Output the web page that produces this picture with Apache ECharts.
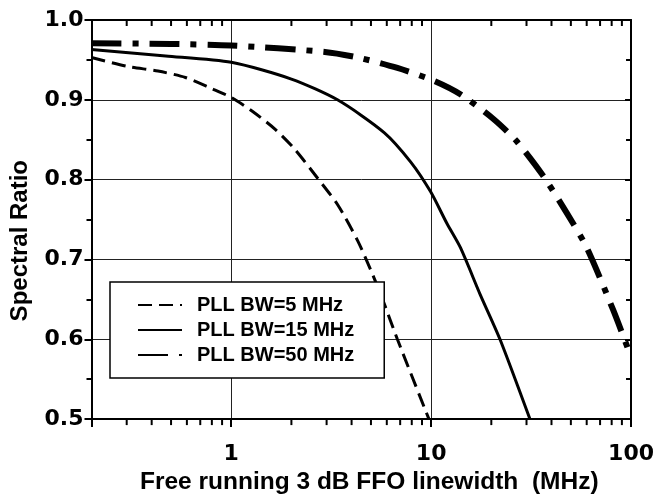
<!DOCTYPE html>
<html><head><meta charset="utf-8">
<script src="https://cdn.jsdelivr.net/npm/echarts@6/dist/echarts.min.js"></script>
<style>html,body{margin:0;padding:0;background:#fff}#c{width:657px;height:500px}</style>
</head><body><div id="c"></div>
<script>
const seriesNames = ['PLL BW=5 MHz', 'PLL BW=15 MHz', 'PLL BW=50 MHz'];

const bw5X = [0.2, 0.3, 0.43, 0.59, 0.8, 1.0, 1.27, 1.66, 2.08, 2.72, 3.42, 4.3, 5.0, 5.6, 6.78, 9.75];
const bw5Y = [0.953, 0.942, 0.936, 0.928, 0.914, 0.903, 0.886, 0.863, 0.838, 0.801, 0.768, 0.723, 0.686, 0.656, 0.600, 0.500];

const bw15X = [0.2, 0.47, 1.0, 2.0, 3.4, 5.82, 7.91, 9.93, 12.0, 14.0, 17.6, 22.1, 31.2];
const bw15Y = [0.963, 0.955, 0.947, 0.926, 0.900, 0.859, 0.822, 0.785, 0.745, 0.715, 0.656, 0.600, 0.500];

const bw50X = [0.2, 0.5, 1.0, 2.94, 4.3, 6.78, 10.3, 14.0, 20.5, 26.8, 36.3, 47.5, 60, 81.3, 100];
const bw50Y = [0.971, 0.970, 0.968, 0.960, 0.953, 0.940, 0.924, 0.907, 0.876, 0.848, 0.805, 0.759, 0.715, 0.637, 0.578];

const xMajorLabels = [1, 10, 100];
const xMinorTicks = [0.3, 0.4, 0.5, 0.6, 0.7, 0.8, 0.9, 2, 3, 4, 5, 6, 7, 8, 9, 20, 30, 40, 50, 60, 70, 80, 90];
const xMin = 0.2, xMax = 100;
const yMin = 0.5, yMax = 1.0, yStep = 0.1;

const xTitle = 'Free running 3 dB FFO linewidth  (MHz)';
const yTitle = 'Spectral Ratio';

function pairs(xs, ys) { return xs.map((x, i) => [x, ys[i]]); }

const labelFont = { fontFamily: 'DejaVu Sans', fontWeight: 'bold', fontSize: 22, color: '#000' };
const titleFont = { fontFamily: 'Liberation Sans', fontWeight: 'bold', fontSize: 24.5, color: '#000' };
const frameLine = { show: true, onZero: false, lineStyle: { color: '#000', width: 2 } };

const chart = echarts.init(document.getElementById('c'), null, { renderer: 'canvas' });
chart.setOption({
  animation: false,
  backgroundColor: '#fff',
  grid: { left: 91.5, right: 21, top: 20, bottom: 77.5, containLabel: false },
  xAxis: [
    {
      type: 'log', logBase: 10, min: xMin, max: xMax, position: 'bottom',
      name: xTitle, nameLocation: 'middle', nameGap: 47,
      nameTextStyle: { ...titleFont, padding: [0, 0, 0, 16] },
      axisLine: frameLine,
      axisTick: { show: true, inside: false, length: 8, lineStyle: { color: '#000', width: 2 } },
      axisLabel: { show: true, margin: 24, customValues: xMajorLabels, ...labelFont },
      splitLine: { show: true, lineStyle: { color: '#222', width: 1 } },
      minorTick: { show: false }
    },
    {
      type: 'log', logBase: 10, min: xMin, max: xMax, position: 'top',
      axisLine: frameLine,
      axisTick: { show: false },
      axisLabel: { show: false },
      splitLine: { show: false }
    }
  ],
  yAxis: [
    {
      type: 'value', min: yMin, max: yMax, interval: yStep, position: 'left',
      axisLine: frameLine,
      axisTick: { show: true, inside: false, length: 7, lineStyle: { color: '#000', width: 2 } },
      minorTick: { show: true, splitNumber: 2, length: 5, lineStyle: { color: '#000', width: 2 } },
      axisLabel: { show: true, margin: 8, formatter: v => v.toFixed(1), ...labelFont },
      splitLine: { show: true, lineStyle: { color: '#222', width: 1 } }
    },
    {
      type: 'value', min: yMin, max: yMax, interval: yStep, position: 'right',
      axisLine: frameLine,
      axisTick: { show: true, inside: true, length: 6, lineStyle: { color: '#000', width: 2 } },
      minorTick: { show: true, splitNumber: 2, length: 5, lineStyle: { color: '#000', width: 2 } },
      axisLabel: { show: false },
      splitLine: { show: false }
    }
  ],
  legend: {
    left: 110, top: 282, orient: 'vertical',
    data: seriesNames,
    backgroundColor: '#fff', borderColor: '#000', borderWidth: 1.5,
    padding: [13, 30, 13, 27],
    itemWidth: 44, itemHeight: 14, itemGap: 5,
    itemStyle: { opacity: 0 },
    textStyle: { fontFamily: 'Liberation Sans', fontWeight: 'bold', fontSize: 20, color: '#000', lineHeight: 20, padding: [0, 0, 0, 10] },
    inactiveColor: '#000'
  },
  graphic: [{
    type: 'text', left: 8, top: 160, rotation: Math.PI / 2,
    style: { text: yTitle, font: 'bold 24px "Liberation Sans"', fill: '#000' }
  }],
  series: [
    {
      name: seriesNames[0], type: 'line', xAxisIndex: 0, yAxisIndex: 0, data: pairs(bw5X, bw5Y),
      symbol: 'none', smooth: 0.25, color: '#000',
      lineStyle: { color: '#000', width: 3, type: [14, 7] }
    },
    {
      name: seriesNames[1], type: 'line', xAxisIndex: 0, yAxisIndex: 0, data: pairs(bw15X, bw15Y),
      symbol: 'none', smooth: 0.25, color: '#000',
      lineStyle: { color: '#000', width: 3, type: 'solid' }
    },
    {
      name: seriesNames[2], type: 'line', xAxisIndex: 0, yAxisIndex: 0, data: pairs(bw50X, bw50Y),
      symbol: 'none', smooth: 0.25, color: '#000',
      lineStyle: { color: '#000', width: 6, type: [30, 11, 6, 11] }
    },
    {
      // minor ticks of the log x axis (bottom outward, top inward)
      name: 'minorTicks', type: 'custom', xAxisIndex: 0, yAxisIndex: 0, silent: true, clip: false, z: 5,
      data: xMinorTicks.map(v => [v, yMin]),
      renderItem: (params, api) => {
        const pb = api.coord([api.value(0), yMin]);
        const pt = api.coord([api.value(0), yMax]);
        return {
          type: 'group', children: [
            { type: 'line', shape: { x1: pb[0], y1: pb[1], x2: pb[0], y2: pb[1] + 6 }, style: { stroke: '#000', lineWidth: 2 } },
            { type: 'line', shape: { x1: pt[0], y1: pt[1], x2: pt[0], y2: pt[1] + 6 }, style: { stroke: '#000', lineWidth: 2 } }
          ]
        };
      }
    }
  ]
});
</script>
</body></html>
